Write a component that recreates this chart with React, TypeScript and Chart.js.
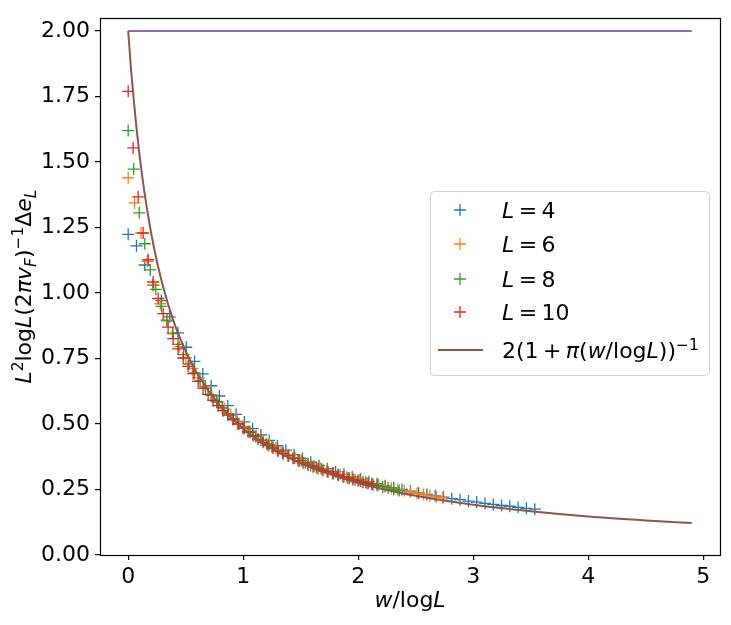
import { useEffect, useRef } from 'react';
import { Chart, registerables } from 'chart.js';

Chart.register(...registerables);

// L = 4
const x4 = [0, 0.072, 0.144, 0.216, 0.289, 0.361, 0.433, 0.505, 0.577, 0.649, 0.721, 0.793, 0.866, 0.938, 1.010, 1.082, 1.154, 1.226, 1.298, 1.371, 1.443, 1.515, 1.587, 1.659, 1.731, 1.803, 1.876, 1.948, 2.020, 2.092, 2.164, 2.236, 2.308, 2.380, 2.453, 2.525, 2.597, 2.669, 2.741, 2.813, 2.885, 2.958, 3.030, 3.102, 3.174, 3.246, 3.318, 3.390, 3.462, 3.535];
const y4 = [1.224, 1.180, 1.107, 1.030, 0.971, 0.909, 0.848, 0.793, 0.739, 0.691, 0.646, 0.607, 0.570, 0.537, 0.508, 0.482, 0.458, 0.437, 0.417, 0.400, 0.383, 0.368, 0.354, 0.341, 0.329, 0.318, 0.308, 0.298, 0.289, 0.280, 0.272, 0.264, 0.257, 0.250, 0.244, 0.237, 0.231, 0.226, 0.221, 0.215, 0.211, 0.206, 0.202, 0.197, 0.193, 0.189, 0.186, 0.182, 0.178, 0.175];

// L = 6
const x6 = [0, 0.056, 0.112, 0.167, 0.223, 0.279, 0.335, 0.391, 0.446, 0.502, 0.558, 0.614, 0.670, 0.726, 0.781, 0.837, 0.893, 0.949, 1.005, 1.060, 1.116, 1.172, 1.228, 1.284, 1.339, 1.395, 1.451, 1.507, 1.563, 1.618, 1.674, 1.730, 1.786, 1.842, 1.898, 1.953, 2.009, 2.065, 2.121, 2.177, 2.232, 2.288, 2.344, 2.400, 2.456, 2.511, 2.567, 2.623, 2.679, 2.735];
const y6 = [1.440, 1.344, 1.229, 1.121, 1.030, 0.959, 0.897, 0.844, 0.795, 0.753, 0.712, 0.676, 0.644, 0.612, 0.584, 0.558, 0.533, 0.511, 0.491, 0.471, 0.454, 0.437, 0.422, 0.408, 0.395, 0.383, 0.371, 0.360, 0.350, 0.340, 0.331, 0.323, 0.314, 0.307, 0.299, 0.293, 0.286, 0.279, 0.273, 0.267, 0.261, 0.255, 0.250, 0.245, 0.240, 0.235, 0.231, 0.226, 0.222, 0.218];

// L = 8
const x8 = [0, 0.048, 0.096, 0.144, 0.192, 0.240, 0.289, 0.337, 0.385, 0.433, 0.481, 0.529, 0.577, 0.625, 0.673, 0.721, 0.769, 0.818, 0.866, 0.914, 0.962, 1.010, 1.058, 1.106, 1.154, 1.202, 1.250, 1.298, 1.347, 1.395, 1.443, 1.491, 1.539, 1.587, 1.635, 1.683, 1.731, 1.779, 1.827, 1.876, 1.924, 1.972, 2.020, 2.068, 2.116, 2.164, 2.212, 2.260, 2.308, 2.356];
const y8 = [1.620, 1.473, 1.306, 1.188, 1.088, 1.014, 0.949, 0.894, 0.847, 0.804, 0.765, 0.729, 0.695, 0.665, 0.636, 0.609, 0.585, 0.562, 0.540, 0.520, 0.501, 0.484, 0.468, 0.452, 0.438, 0.425, 0.412, 0.400, 0.389, 0.379, 0.369, 0.360, 0.351, 0.342, 0.334, 0.327, 0.319, 0.312, 0.306, 0.299, 0.293, 0.287, 0.282, 0.276, 0.271, 0.265, 0.260, 0.256, 0.251, 0.246];

// L = 10
const x10 = [0, 0.043, 0.087, 0.130, 0.174, 0.217, 0.261, 0.304, 0.347, 0.391, 0.434, 0.478, 0.521, 0.565, 0.608, 0.651, 0.695, 0.738, 0.782, 0.825, 0.869, 0.912, 0.955, 0.999, 1.042, 1.086, 1.129, 1.173, 1.216, 1.259, 1.303, 1.346, 1.390, 1.433, 1.477, 1.520, 1.563, 1.607, 1.650, 1.694, 1.737, 1.780, 1.824, 1.867, 1.911, 1.954, 1.998, 2.041, 2.085, 2.128];
const y10 = [1.770, 1.554, 1.367, 1.229, 1.127, 1.042, 0.979, 0.921, 0.870, 0.826, 0.787, 0.752, 0.720, 0.692, 0.663, 0.637, 0.613, 0.590, 0.570, 0.551, 0.534, 0.517, 0.500, 0.484, 0.470, 0.456, 0.442, 0.430, 0.418, 0.408, 0.397, 0.387, 0.378, 0.369, 0.360, 0.352, 0.344, 0.337, 0.330, 0.323, 0.317, 0.311, 0.305, 0.299, 0.294, 0.288, 0.283, 0.278, 0.273, 0.268];

// 2(1 + pi(w/logL))^-1
const curveX = [0, 0.025, 0.05, 0.075, 0.1, 0.15, 0.2, 0.25, 0.3, 0.4, 0.5, 0.6, 0.8, 1.0, 1.25, 1.5, 2.0, 2.5, 3.0, 3.5, 4.0, 4.5, 4.9];
const curveY = [2.0, 1.854, 1.729, 1.619, 1.522, 1.359, 1.228, 1.120, 1.030, 0.886, 0.778, 0.693, 0.569, 0.483, 0.406, 0.350, 0.275, 0.226, 0.192, 0.167, 0.147, 0.132, 0.122];

// flat line at 2
const flatX = [0, 4.9];
const flatY = [2.0, 2.0];

const xTicks = [0, 1, 2, 3, 4, 5];
const yTicks = [0, 0.25, 0.5, 0.75, 1.0, 1.25, 1.5, 1.75, 2.0];

const seriesL = ['4', '6', '8', '10'];
const colors = ['#1f77b4', '#ff7f0e', '#2ca02c', '#d62728'];
const purple = '#9467bd';
const brown = '#8c564b';

const FONT = '"DejaVu Sans"';
const TS = '\u2009'; // thin space, like mathtext

type Seg = { t: string; it?: boolean; sup?: boolean; sub?: boolean };

const pts = (xs: number[], ys: number[]) => xs.map((x, i) => ({ x, y: ys[i] }));

function segFont(s: Seg, size: number) {
  const sz = s.sup || s.sub ? size * 0.7 : size;
  return `${s.it ? 'italic ' : ''}${sz}px ${FONT}`;
}

function richWidth(ctx: CanvasRenderingContext2D, segs: Seg[], size: number) {
  let w = 0;
  for (const s of segs) {
    ctx.font = segFont(s, size);
    w += ctx.measureText(s.t).width;
  }
  return w;
}

function drawRich(ctx: CanvasRenderingContext2D, segs: Seg[], x: number, y: number, size: number) {
  let cx = x;
  for (const s of segs) {
    ctx.font = segFont(s, size);
    const dy = s.sup ? -size * 0.38 : s.sub ? size * 0.22 : 0;
    ctx.fillText(s.t, cx, y + dy);
    cx += ctx.measureText(s.t).width;
  }
}

const yTitle: Seg[] = [
  { t: 'L', it: true }, { t: '2', sup: true }, { t: 'log' }, { t: 'L', it: true },
  { t: '(2' }, { t: 'π', it: true }, { t: 'v', it: true }, { t: 'F', it: true, sub: true },
  { t: ')' }, { t: '−1', sup: true }, { t: 'Δ' }, { t: 'e', it: true }, { t: 'L', it: true, sub: true },
];
const xTitle: Seg[] = [{ t: 'w', it: true }, { t: '/log' }, { t: 'L', it: true }];
const curveLabel: Seg[] = [
  { t: '2(1' + TS + '+' + TS }, { t: 'π', it: true }, { t: '(' }, { t: 'w', it: true }, { t: '/log' },
  { t: 'L', it: true }, { t: '))' }, { t: '−1', sup: true },
];

const decorPlugin = {
  id: 'decor',
  afterDraw(chart: Chart) {
    const ctx = chart.ctx;
    const a = chart.chartArea;
    ctx.save();
    // frame
    ctx.strokeStyle = '#000';
    ctx.lineWidth = 1.2;
    ctx.strokeRect(Math.round(a.left) + 0.5, Math.round(a.top) + 0.5, Math.round(a.right - a.left), Math.round(a.bottom - a.top));

    ctx.fillStyle = '#000';
    ctx.textBaseline = 'alphabetic';
    ctx.textAlign = 'left';
    const size = 22;

    // x title
    const xw = richWidth(ctx, xTitle, size);
    drawRich(ctx, xTitle, (a.left + a.right) / 2 - xw / 2, 607, size);

    // y title
    ctx.save();
    ctx.translate(31, (a.top + a.bottom) / 2);
    ctx.rotate(-Math.PI / 2);
    const yw = richWidth(ctx, yTitle, size);
    drawRich(ctx, yTitle, -yw / 2, 0, size);
    ctx.restore();

    // legend
    const lx = 430.5, ly = 191.5, lw = 279, lh = 184;
    ctx.beginPath();
    ctx.roundRect(lx, ly, lw, lh, 4);
    ctx.fillStyle = 'rgba(255,255,255,0.8)';
    ctx.fill();
    ctx.strokeStyle = '#d0d0d0';
    ctx.lineWidth = 1;
    ctx.stroke();

    const rows = [210, 244, 279, 312];
    seriesL.forEach((l, i) => {
      const cy = rows[i];
      ctx.strokeStyle = colors[i];
      ctx.lineWidth = 1.3;
      ctx.beginPath();
      ctx.moveTo(454, cy);
      ctx.lineTo(466, cy);
      ctx.moveTo(460, cy - 6);
      ctx.lineTo(460, cy + 6);
      ctx.stroke();
      ctx.fillStyle = '#000';
      drawRich(ctx, [{ t: 'L', it: true }, { t: TS + '=' + TS }, { t: l }], 502, cy + 8, size);
    });
    ctx.strokeStyle = brown;
    ctx.lineWidth = 2;
    ctx.beginPath();
    ctx.moveTo(438, 350);
    ctx.lineTo(483, 350);
    ctx.stroke();
    ctx.fillStyle = '#000';
    drawRich(ctx, curveLabel, 502, 358, size);

    ctx.restore();
  },
};

const tickGrid = { drawOnChartArea: false, drawTicks: true, tickLength: 5, color: '#000', lineWidth: 1.2 };

export default function App() {
  const canvasRef = useRef<HTMLCanvasElement | null>(null);

  useEffect(() => {
    document.body.style.margin = '0';
    if (!canvasRef.current) return;
    const scatter = (i: number, xs: number[], ys: number[]) => ({
      label: 'L = ' + seriesL[i],
      data: pts(xs, ys),
      showLine: false,
      pointStyle: 'cross' as const,
      pointRadius: 6,
      pointHoverRadius: 6,
      borderColor: colors[i],
      backgroundColor: colors[i],
      pointBorderWidth: 1.3,
      order: 6 - i,
    });
    const chart = new Chart(canvasRef.current, {
      type: 'scatter',
      data: {
        datasets: [
          scatter(0, x4, y4),
          scatter(1, x6, y6),
          scatter(2, x8, y8),
          scatter(3, x10, y10),
          {
            label: 'flat',
            data: pts(flatX, flatY),
            showLine: true,
            borderColor: purple,
            borderWidth: 2,
            pointRadius: 0,
            order: 2,
          },
          {
            label: '2(1+π(w/logL))^-1',
            data: pts(curveX, curveY),
            showLine: true,
            borderColor: brown,
            borderWidth: 2,
            pointRadius: 0,
            cubicInterpolationMode: 'monotone',
            order: 1,
          },
        ],
      },
      options: {
        animation: false,
        responsive: true,
        maintainAspectRatio: false,
        layout: { padding: { top: 11, right: 11, left: 0, bottom: 0 } },
        plugins: { legend: { display: false }, tooltip: { enabled: false } },
        scales: {
          x: {
            type: 'linear',
            min: -0.245,
            max: 5.145,
            afterBuildTicks: (s: any) => { s.ticks = xTicks.map((v) => ({ value: v })); },
            afterFit: (s: any) => { s.height = 70; },
            grid: tickGrid,
            border: { display: false },
            ticks: { color: '#000', font: { family: 'DejaVu Sans', size: 22 }, padding: 4, maxRotation: 0, callback: (v: any) => String(v) },
          },
          y: {
            type: 'linear',
            min: 0,
            max: 2.049,
            afterBuildTicks: (s: any) => { s.ticks = yTicks.map((v) => ({ value: v })); },
            afterFit: (s: any) => { s.width = 100; },
            grid: tickGrid,
            border: { display: false },
            ticks: { color: '#000', font: { family: 'DejaVu Sans', size: 22 }, padding: 5, callback: (v: any) => Number(v).toFixed(2) },
          },
        },
      },
      plugins: [decorPlugin],
    });
    return () => chart.destroy();
  }, []);

  return (
    <div style={{ position: 'absolute', left: 0, top: 0, width: 731, height: 625, background: '#fff' }}>
      <canvas ref={canvasRef} />
    </div>
  );
}
